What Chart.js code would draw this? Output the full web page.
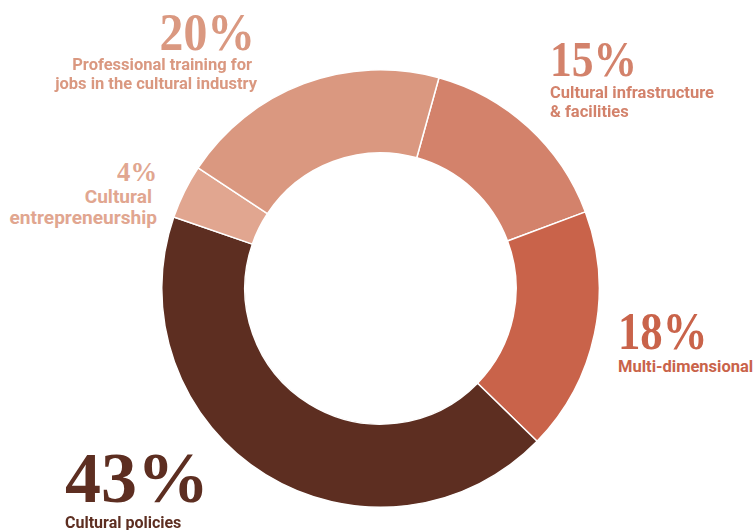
<!DOCTYPE html>
<html>
<head>
<meta charset="utf-8">
<script src="https://cdn.jsdelivr.net/npm/chart.js@4.4.1/dist/chart.umd.min.js"></script>
<style>
  html, body { margin: 0; padding: 0; background: #fff; }
  #wrap { position: relative; width: 755px; height: 530px; overflow: hidden; }
  #donut { position: absolute; left: 161px; top: 69px; width: 439px; height: 439px; }
  .pct { position: absolute; font-family: "Liberation Serif", serif; font-weight: 700; line-height: 1; white-space: nowrap; }
  .lbl { position: absolute; font-family: Roboto, sans-serif; font-weight: 700; line-height: 1; white-space: nowrap; }
</style>
</head>
<body>
<div id="wrap">
  <div id="donut"><canvas id="chart"></canvas></div>
</div>
<script>
// slices clockwise, starting from the top-right boundary
const categories = [
  ['Cultural infrastructure', '& facilities'],
  ['Multi-dimensional'],
  ['Cultural policies'],
  ['Cultural', 'entrepreneurship'],
  ['Professional training for', 'jobs in the cultural industry']
];
const shares = [15, 18, 43, 4, 20];
const colors = ['#d3826b', '#c9634a', '#5d2e21', '#e1a690', '#da9880'];

// label layout: px = figure anchor, x = text anchor, base = figure baseline,
// line = first text baseline, shift = per-line nudge toward the chart
const placement = [
  { px: 550, x: 550, align: 'left',  base: 76,  size: 50, sq: 0.87, line: 99,  fs: 16.5, gap: 19, shift: [0, 0] },
  { px: 618, x: 618, align: 'left',  base: 350, size: 52, sq: 0.86, line: 373, fs: 16.5, gap: 19, shift: [0] },
  { px: 65,  x: 65,  align: 'left',  base: 502, size: 72, sq: 1,    line: 528, fs: 16,   gap: 19, shift: [0] },
  { px: 157, x: 157, align: 'right', base: 181, size: 28, sq: 0.95, line: 203, fs: 19.1, gap: 21, shift: [5, 0] },
  { px: 255, x: 257, align: 'right', base: 50,  size: 53, sq: 0.9,  line: 71,  fs: 16.5, gap: 19, shift: [5, 0] }
];
const SERIF_BASE = 0.8375;  // baseline offset for line-height:1
const SANS_BASE = 0.842;

const wrap = document.getElementById('wrap');

function place(el, align, x, baseline, size, k) {
  el.style.top = (baseline - k * size) + 'px';
  if (align === 'right') {
    el.style.right = (755 - x) + 'px';
    el.style.textAlign = 'right';
  } else {
    el.style.left = x + 'px';
  }
  wrap.appendChild(el);
}

shares.forEach((v, i) => {
  const p = placement[i];
  const pct = document.createElement('div');
  pct.className = 'pct';
  pct.textContent = v + '%';
  pct.style.fontSize = p.size + 'px';
  pct.style.color = colors[i];
  pct.style.transform = 'scaleX(' + p.sq + ')';
  pct.style.transformOrigin = p.align === 'right' ? 'right center' : 'left center';
  place(pct, p.align, p.px, p.base, p.size, SERIF_BASE);

  categories[i].forEach((txt, j) => {
    const l = document.createElement('div');
    l.className = 'lbl';
    l.textContent = txt;
    l.style.fontSize = p.fs + 'px';
    l.style.color = colors[i];
    const x = p.align === 'right' ? p.x - p.shift[j] : p.x + p.shift[j];
    place(l, p.align, x, p.line + j * p.gap, p.fs, SANS_BASE);
  });
});

new Chart(document.getElementById('chart'), {
  type: 'doughnut',
  data: {
    labels: categories.map(c => c.join(' ')),
    datasets: [{
      data: shares,
      backgroundColor: colors,
      borderColor: '#fff',
      borderWidth: 1.5,
      hoverOffset: 0
    }]
  },
  options: {
    responsive: true, maintainAspectRatio: false,
    animation: false,
    events: [],
    rotation: 15.5,
    cutout: '62%',
    plugins: { legend: { display: false }, tooltip: { enabled: false } }
  }
});
</script>
</body>
</html>
